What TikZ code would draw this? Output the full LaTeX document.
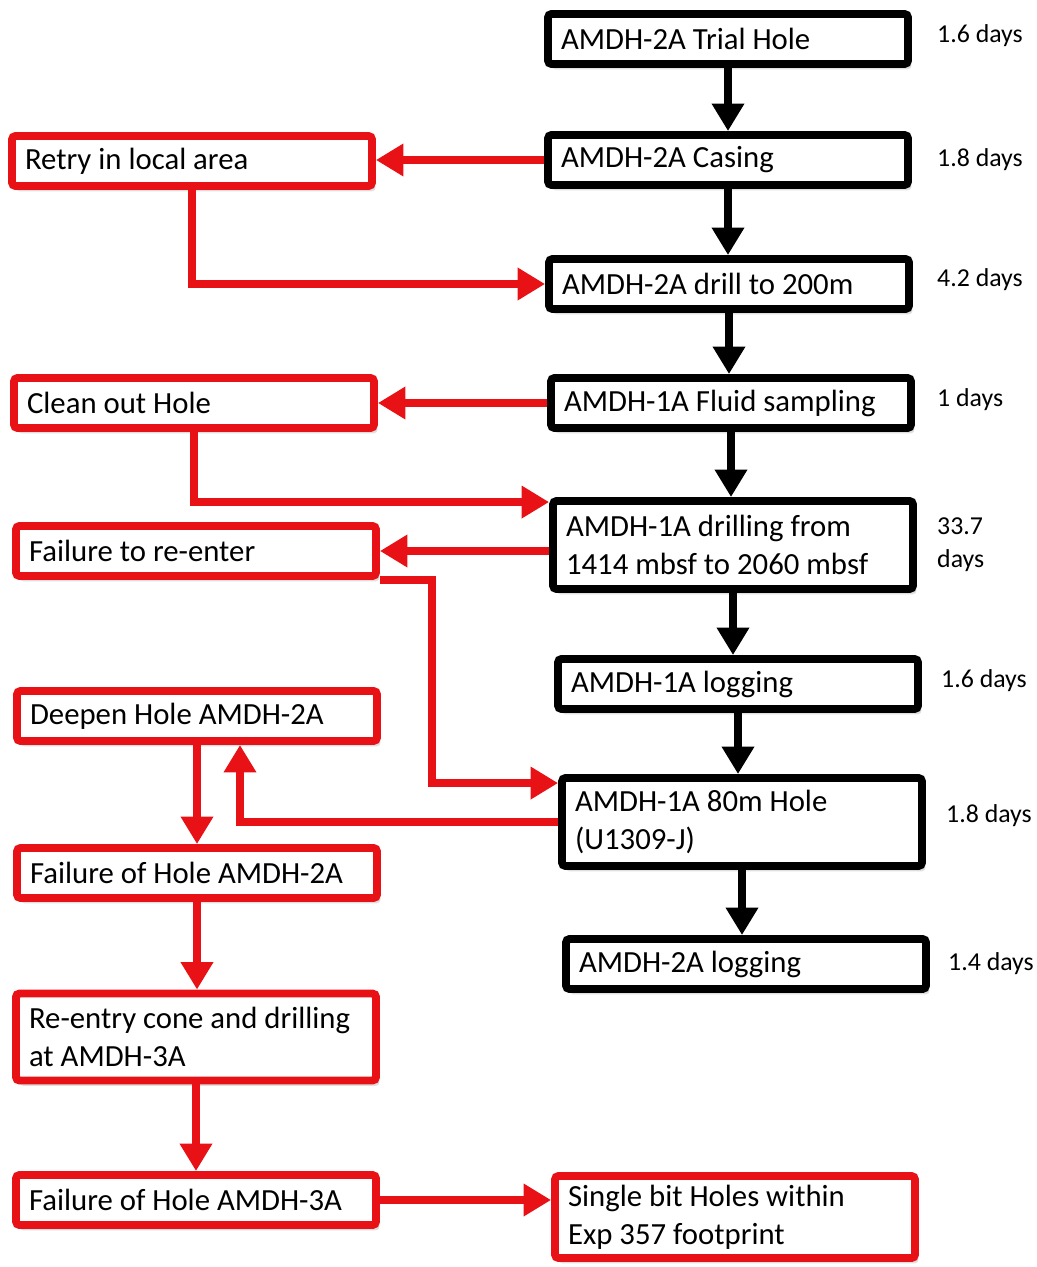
\documentclass[tikz,border=0pt]{standalone}
\usepackage{fontspec}
\setmainfont{Carlito}
\usetikzlibrary{arrows.meta,shadows}
\definecolor{failred}{RGB}{232,18,22}
\begin{document}
\begin{tikzpicture}[x=0.02cm,y=-0.02cm,
        stage/.style={draw=black, line width=4.5pt, rounded corners=2pt, fill=white,
                minimum width=7.2cm, minimum height=1cm, inner xsep=0.26cm,
                text width=6.68cm, align=flush left,
                font=\fontsize{17.5}{21.5}\selectfont,
                drop shadow={shadow xshift=2pt, shadow yshift=-3pt, opacity=0.25}},
        backup/.style={stage, draw=failred},
        days/.style={anchor=west, align=flush left, font=\fontsize{14.7}{18.7}\selectfont},
        next/.style={draw=black, line width=5pt, -{Triangle[length=0.55cm,width=0.62cm]}},
        alt/.style={draw=failred, line width=4.5pt, -{Triangle[length=0.55cm,width=0.62cm]}}]
    \useasboundingbox (0,0) rectangle (1036,1267);

    \node[stage] (trial)    at (728,39)  {AMDH-2A Trial Hole};
    \node[stage] (casing)   at (728,160) {AMDH-2A Casing};
    \node[stage] (drill)    at (729,284) {AMDH-2A drill to 200m};
    \node[stage] (fluid)    at (731,403) {AMDH-1A Fluid sampling};
    \node[stage, minimum height=1.76cm] (deep)  at (733,545)
        {AMDH-1A drilling from\\1414 mbsf to 2060 mbsf};
    \node[stage] (logone)   at (738,684) {AMDH-1A logging};
    \node[stage, minimum height=1.76cm] (short) at (742,822)
        {AMDH-1A 80m Hole\\(U1309-J)};
    \node[stage] (logtwo)   at (746,964) {AMDH-2A logging};

    \node[days] at (931,36)  {1.6 days};
    \node[days] at (931,160) {1.8 days};
    \node[days] at (931,280) {4.2 days};
    \node[days] at (931,400) {1 days};
    \node[days] at (931,545) {33.7\\days};
    \node[days] at (935,681) {1.6 days};
    \node[days] at (940,816) {1.8 days};
    \node[days] at (942,964) {1.4 days};

    \node[backup] (retry)   at (192,161)  {Retry in local area};
    \node[backup] (clean)   at (194,403)  {Clean out Hole};
    \node[backup] (reenter) at (196,551)  {Failure to re-enter};
    \node[backup] (deepen)  at (197,716)  {Deepen Hole AMDH-2A};
    \node[backup] (failtwo) at (197,873)  {Failure of Hole AMDH-2A};
    \node[backup, minimum height=1.74cm] (cone) at (196,1037)
        {Re-entry cone and drilling\\at AMDH-3A};
    \node[backup] (failthree) at (196,1200) {Failure of Hole AMDH-3A};
    \node[backup, minimum height=1.64cm] (single) at (735,1217)
        {Single bit Holes within\\Exp 357 footprint};

    \draw[next] (trial.south)  -- (trial.south |- casing.north);
    \draw[next] (casing.south) -- (casing.south |- drill.north);
    \draw[next] (drill.south)  -- (drill.south |- fluid.north);
    \draw[next] (fluid.south)  -- (fluid.south |- deep.north);
    \draw[next] (deep.south)   -- (deep.south |- logone.north);
    \draw[next] (logone.south) -- (logone.south |- short.north);
    \draw[next] (short.south)  -- (short.south |- logtwo.north);

    \draw[alt] (casing.west) -- (casing.west -| retry.east);
    \draw[alt] (retry.south) |- (drill.west);
    \draw[alt] (fluid.west) -- (fluid.west -| clean.east);
    \draw[alt] (clean.south) |- ([yshift=-0.1cm]deep.north west);
    \draw[alt] (reenter.east -| deep.west) -- (reenter.east);
    \draw[alt] (reenter.south east) -- ++(52,0) |- ([yshift=-0.18cm]short.north west);
    \draw[alt] (short.west) -| ([xshift=0.86cm]deepen.south);
    \draw[alt] (deepen.south) -- (deepen.south |- failtwo.north);
    \draw[alt] (failtwo.south) -- (failtwo.south |- cone.north);
    \draw[alt] (cone.south) -- (cone.south |- failthree.north);
    \draw[alt] (failthree.east) -- (failthree.east -| single.west);
\end{tikzpicture}
\end{document}
